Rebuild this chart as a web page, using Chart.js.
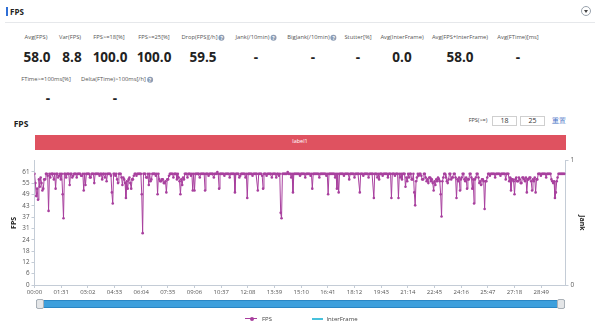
<!DOCTYPE html>
<html><head><meta charset="utf-8">
<script src="https://cdn.jsdelivr.net/npm/chart.js@4.4.1/dist/chart.umd.min.js"></script>
<style>
html,body{margin:0;padding:0;background:#fff;width:600px;height:331px;overflow:hidden;font-family:"Open Sans","Noto Sans",sans-serif;color:#222;}
.a{position:absolute;white-space:nowrap;transform:translate(-50%,-50%);line-height:1;}
.lb{font-size:5.8px;color:#555;}
.vl{font-size:13.5px;font-weight:700;color:#222;}
.q{display:inline-block;width:6px;height:6px;border-radius:50%;background:#8d9db5;color:#fff;font-size:5px;line-height:6px;text-align:center;vertical-align:middle;margin-left:1px;font-weight:700;}
.box{position:absolute;border:1px solid #cfcfcf;box-sizing:border-box;font-size:7px;text-align:center;line-height:8px;color:#333;}
</style></head>
<body>
<!-- header -->
<div style="position:absolute;left:6px;top:7px;width:2px;height:9px;background:#2f6fd6;"></div>
<div class="a" style="left:17px;top:11.5px;font-size:8px;font-weight:700;">FPS</div>
<div style="position:absolute;left:5px;top:21.5px;width:590px;height:1px;background:#e6e8eb;"></div>
<div style="position:absolute;left:581px;top:6px;width:10px;height:10px;border:1px solid #9aa3ad;border-radius:50%;box-sizing:border-box;"></div>
<div style="position:absolute;left:584px;top:9.5px;width:0;height:0;border-left:2px solid transparent;border-right:2px solid transparent;border-top:3px solid #444;"></div>

<!-- stats row 1 -->
<div class="a lb" style="left:36px;top:38px;">Avg(FPS)</div>
<div class="a lb" style="left:70px;top:38px;">Var(FPS)</div>
<div class="a lb" style="left:109px;top:38px;">FPS&gt;=18[%]</div>
<div class="a lb" style="left:154px;top:38px;">FPS&gt;=25[%]</div>
<div class="a lb" style="left:203px;top:38px;">Drop(FPS)[/h]<span class="q">?</span></div>
<div class="a lb" style="left:256px;top:38px;">Jank(/10min)<span class="q">?</span></div>
<div class="a lb" style="left:312px;top:38px;">BigJank(/10min)<span class="q">?</span></div>
<div class="a lb" style="left:358px;top:38px;">Stutter[%]</div>
<div class="a lb" style="left:402px;top:38px;">Avg(InterFrame)</div>
<div class="a lb" style="left:460px;top:38px;">Avg(FPS+InterFrame)</div>
<div class="a lb" style="left:518px;top:38px;">Avg(FTime)[ms]</div>

<div class="a vl" style="left:37px;top:58px;">58.0</div>
<div class="a vl" style="left:72px;top:58px;">8.8</div>
<div class="a vl" style="left:110px;top:58px;">100.0</div>
<div class="a vl" style="left:154px;top:58px;">100.0</div>
<div class="a vl" style="left:203px;top:58px;">59.5</div>
<div class="a vl" style="left:256px;top:58px;">-</div>
<div class="a vl" style="left:313px;top:58px;">-</div>
<div class="a vl" style="left:358px;top:58px;">-</div>
<div class="a vl" style="left:402px;top:58px;">0.0</div>
<div class="a vl" style="left:460px;top:58px;">58.0</div>
<div class="a vl" style="left:518px;top:58px;">-</div>

<!-- stats row 2 -->
<div class="a lb" style="left:46px;top:80px;">FTime&gt;=100ms[%]</div>
<div class="a lb" style="left:117px;top:80px;">Delta(FTime)&gt;100ms[/h]<span class="q">?</span></div>
<div class="a vl" style="left:48px;top:99px;">-</div>
<div class="a vl" style="left:115px;top:99px;">-</div>

<!-- chart section header -->
<div class="a" style="left:21px;top:123.5px;font-size:8.5px;font-weight:700;">FPS</div>
<div class="a" style="left:478px;top:121px;font-size:5.5px;color:#444;">FPS(&gt;=)</div>
<div class="box" style="left:492px;top:116px;width:25px;height:10px;">18</div>
<div class="box" style="left:520px;top:116px;width:25px;height:10px;">25</div>
<div class="a" style="left:559px;top:121px;font-size:6.5px;color:#3b6cc4;">重置</div>
<div style="position:absolute;left:34.5px;top:135px;width:531px;height:14.5px;background:#df5260;"></div>
<div class="a" style="left:300px;top:142.3px;font-size:5.5px;color:#fff;">label1</div>

<div style="position:absolute;left:0;top:150px;width:600px;height:150px;"><canvas id="c"></canvas></div>

<!-- data zoom slider -->
<div style="position:absolute;left:36px;top:300px;width:529px;height:8px;background:#3d9fdc;border:1px solid #2a86c4;box-sizing:border-box;"></div>
<div style="position:absolute;left:36px;top:299px;width:8px;height:10px;background:#e4e6e8;border:1px solid #aab0b6;border-radius:2px;box-sizing:border-box;"></div>
<div style="position:absolute;left:557px;top:299px;width:8px;height:10px;background:#e4e6e8;border:1px solid #aab0b6;border-radius:2px;box-sizing:border-box;"></div>

<!-- legend -->
<div style="position:absolute;left:245px;top:318px;width:12px;height:1px;background:#a83e9e;"></div>
<div style="position:absolute;left:249.5px;top:316.5px;width:4px;height:4px;border-radius:50%;background:#a83e9e;"></div>
<div class="a" style="left:267px;top:318.5px;font-size:6px;color:#444;">FPS</div>
<div style="position:absolute;left:312px;top:317.5px;width:11px;height:2px;background:#47c1dc;"></div>
<div class="a" style="left:342px;top:318.5px;font-size:6px;color:#444;">InterFrame</div>

<script>
// ---- data ----
const SAMPLE_SEC = 3; // one FPS sample every 3 seconds
const fpsValues = [
 60,55,48,52,46,57,53,58,55,51,52,57,57,60,60,59,40,60,58,60,
 60,60,57,60,52,60,60,58,59,60,57,60,49,36,60,60,58,60,60,60,
 54,60,60,58,59,60,60,60,58,60,60,60,60,59,59,60,51,60,54,60,
 60,60,60,58,58,60,60,60,55,60,60,60,60,60,59,60,60,57,60,60,
 58,60,56,60,60,60,60,59,50,44,60,60,59,60,57,55,60,60,60,58,
 54,58,57,55,47,56,52,57,58,55,52,57,57,59,60,60,59,60,60,60,
 60,60,49,28,60,60,60,58,58,60,54,60,56,57,60,60,60,60,59,60,
 49,60,57,56,56,57,57,55,55,56,50,57,57,59,60,60,60,60,58,60,
 60,60,57,60,58,56,49,57,54,58,57,60,60,60,58,60,60,60,59,60,
 51,60,51,60,60,60,60,60,58,60,60,60,60,60,51,60,60,60,59,60,
 60,60,60,60,58,60,60,60,61,60,52,60,60,60,60,60,59,60,60,60,
 60,60,58,60,60,60,60,60,50,60,60,60,60,58,59,60,60,60,60,60,
 58,60,47,60,60,60,60,60,59,60,60,60,60,60,51,60,60,60,60,59,
 52,60,60,60,59,60,60,60,60,60,58,60,60,60,60,58,60,60,59,60,
 39,36,60,60,60,60,60,60,61,60,60,60,58,60,50,60,60,60,60,60,
 60,60,59,60,60,60,60,60,58,60,60,60,60,60,59,60,52,60,60,60,
 60,60,60,60,58,60,60,60,60,60,60,60,59,60,49,60,60,60,60,60,
 60,60,58,60,52,60,50,60,60,60,60,60,59,60,60,60,60,60,57,60,
 60,60,60,60,58,60,60,60,60,60,50,60,60,60,59,60,60,60,60,60,
 58,60,60,60,60,60,47,60,60,60,58,60,57,60,60,60,59,60,60,60,
 60,60,58,60,60,60,47,60,60,60,59,60,60,60,47,60,58,60,57,60,
 60,60,53,58,56,60,58,60,60,57,57,60,50,43,56,58,60,59,60,60,
 59,57,57,60,60,58,56,57,55,58,58,56,57,55,51,56,54,57,56,58,
 57,56,49,37,56,58,60,60,58,56,55,57,60,60,57,58,58,60,60,58,
 47,57,56,58,51,57,58,60,60,57,56,58,52,57,57,60,60,58,52,57,
 44,57,58,60,60,58,55,56,54,57,57,56,41,56,56,58,60,60,59,60,
 60,60,60,60,58,60,60,60,60,60,59,60,60,60,60,60,57,60,60,60,
 56,58,51,57,57,56,49,57,58,56,56,58,57,55,55,58,58,57,56,58,
 50,57,57,58,58,56,51,57,56,58,50,57,57,60,60,60,59,60,60,60,
 60,60,58,60,60,60,60,60,57,56,55,56,47,50,56,58,60,60,60,60,
 60,60,60,60
];
const interFrameValues = []; // nothing visible on the Jank axis
const xTickLabels = ['00:00','01:31','03:02','04:33','06:04','07:35','09:06','10:37','12:08','13:39','15:10','16:41','18:12','19:43','21:14','22:45','24:16','25:47','27:18','28:49'];
const X_MAX_SEC = 1812;
const yTickValues = [0,6.1,12.2,18.3,24.4,30.5,36.6,42.7,48.8,54.9,61];
const yTickLabels = ['0','6','12','18','24','31','37','43','49','55','61'];
const Y_MAX = 67.1;
const jankTickValues = [0,1];
const jankTickLabels = ['0','1'];

// ---- build ----
const toSec = s => { const [m, ss] = s.split(':').map(Number); return m*60+ss; };
const xTickValues = xTickLabels.map(toSec);
const fpsPoints = fpsValues.map((v,i)=>({x:i*SAMPLE_SEC, y:v}));
const ifPoints = interFrameValues.map((v,i)=>({x:i*SAMPLE_SEC, y:v}));

const AX = '#c4ccd6';
const tickFont = {family:'"Open Sans","Noto Sans",sans-serif', size:6.3};
new Chart(document.getElementById('c'), {
  type:'line',
  data:{datasets:[
    {label:'FPS', data:fpsPoints, yAxisID:'y', borderColor:'#a8409e', backgroundColor:'#a8409e',
     borderWidth:1, pointRadius:1.3, pointBorderWidth:0, pointBackgroundColor:'#a8409e', tension:0},
    {label:'InterFrame', data:ifPoints, yAxisID:'y1', borderColor:'#47c1dc', backgroundColor:'#47c1dc',
     borderWidth:1.5, pointRadius:0, tension:0}
  ]},
  options:{
    responsive:true, maintainAspectRatio:false, animation:false,
    layout:{padding:{top:10.7,left:0,right:0,bottom:0}},
    plugins:{legend:{display:false}, tooltip:{enabled:false}},
    scales:{
      x:{type:'linear', min:0, max:X_MAX_SEC,
        afterBuildTicks:s=>{ s.ticks = xTickValues.map(v=>({value:v})); },
        afterFit:s=>{ s.height = 15; },
        ticks:{autoSkip:false, maxRotation:0, minRotation:0, padding:1, color:'#555', font:{...tickFont, size:6},
          callback:(v,i)=>xTickLabels[i]},
        grid:{display:true, drawOnChartArea:false, drawTicks:true, tickLength:3, color:AX},
        border:{display:true, color:AX}
      },
      y:{position:'left', min:0, max:Y_MAX,
        afterBuildTicks:s=>{ s.ticks = yTickValues.map(v=>({value:v})); },
        afterFit:s=>{ s.width = 34.5; },
        ticks:{autoSkip:false, padding:2, color:'#555', font:tickFont, callback:(v,i)=>yTickLabels[i]},
        grid:{display:true, drawOnChartArea:false, drawTicks:true, tickLength:3, color:AX},
        border:{display:true, color:AX},
        title:{display:true, text:'FPS', color:'#222', font:{family:'"Open Sans",sans-serif', size:7, weight:'bold'}, padding:{top:10,bottom:0}}
      },
      y1:{position:'right', min:0, max:1,
        afterBuildTicks:s=>{ s.ticks = jankTickValues.map(v=>({value:v})); },
        afterFit:s=>{ s.width = 34.5; },
        ticks:{autoSkip:false, padding:2, color:'#555', font:tickFont, callback:(v,i)=>jankTickLabels[i]},
        grid:{display:true, drawOnChartArea:false, drawTicks:true, tickLength:3, color:AX},
        border:{display:true, color:AX},
        title:{display:true, text:'Jank', color:'#222', font:{family:'"Open Sans",sans-serif', size:7, weight:'bold'}, padding:{top:14,bottom:0}}
      }
    }
  }
});
</script>
</body></html>
